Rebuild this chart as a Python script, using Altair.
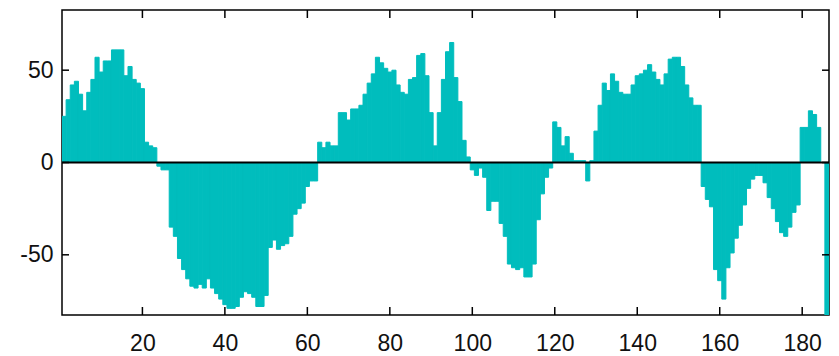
import altair as alt
import pandas as pd

index = list(range(1, 187))
values = [
    25, 34, 42, 44, 37, 28, 38, 45, 57, 49,
    55, 55, 61, 61, 61, 47, 52, 45, 43, 40,
    11, 9, 8, -2, -4, -4, -35, -40, -52, -58,
    -63, -67, -68, -66, -68, -63, -68, -71, -74, -77,
    -79, -79, -78, -73, -70, -71, -73, -78, -78, -72,
    -46, -42, -47, -45, -44, -40, -28, -25, -22, -13,
    -10, -10, 11, 8, 11, 9, 9, 27, 27, 23,
    29, 29, 31, 37, 43, 48, 57, 54, 51, 49,
    50, 42, 38, 37, 45, 46, 58, 59, 47, 27,
    9, 27, 45, 60, 65, 46, 33, 12, 3, -4,
    -7, -3, -8, -26, -21, -21, -33, -40, -55, -57,
    -58, -57, -62, -62, -55, -31, -17, -8, -3, 22,
    19, 9, 14, 5, 1, 1, 1, -10, 1, 17,
    31, 43, 39, 48, 44, 38, 37, 37, 42, 47,
    48, 50, 53, 49, 45, 42, 48, 56, 57, 57,
    52, 42, 35, 31, 31, -13, -20, -24, -58, -64,
    -74, -57, -49, -41, -34, -23, -14, -9, -7, -7,
    -11, -19, -25, -32, -38, -40, -35, -27, -23, 19,
    19, 28, 26, 19, 0, -83,
]
x_ticks = [20, 40, 60, 80, 100, 120, 140, 160, 180]
y_ticks = [-50, 0, 50]

TEAL = "#00BDBD"
FONT = "Liberation Sans Narrow, Liberation Sans, Arial, sans-serif"
W, H = 767, 305

df = pd.DataFrame({"i": index, "v": values})
xs = alt.Scale(domain=[0.5, 186.5], nice=False, zero=False)
ys = alt.Scale(domain=[-82.6, 82.6], nice=False, zero=False)

xaxis = alt.Axis(values=x_ticks, ticks=False, domain=False, grid=False,
                 labelFontSize=23, labelFont=FONT, labelColor="#111",
                 labelPadding=17, title=None)
yaxis = alt.Axis(values=y_ticks, ticks=False, domain=False, grid=False,
                 labelFontSize=23, labelFont=FONT, labelColor="#111",
                 labelPadding=9, title=None,
                 labelExpr="replace(datum.label, '\u2212', '-')")

bars = alt.Chart(df).transform_calculate(
    x0="datum.i - 0.5", x1="datum.i + 0.5", zero="0"
).mark_bar(color=TEAL, stroke=TEAL, strokeWidth=1, clip=True).encode(
    x=alt.X("x0:Q", scale=xs, axis=xaxis),
    x2="x1:Q",
    y=alt.Y("v:Q", scale=ys, axis=yaxis),
    y2="zero:Q",
)

xt = pd.DataFrame({"t": x_ticks})
yt = pd.DataFrame({"t": y_ticks})

xticks_bottom = alt.Chart(xt).mark_rule(color="black", strokeWidth=1.5).encode(
    x=alt.X("t:Q", scale=xs, axis=xaxis), y=alt.value(H), y2=alt.value(H - 8))
xticks_top = alt.Chart(xt).mark_rule(color="black", strokeWidth=1.5).encode(
    x=alt.X("t:Q", scale=xs, axis=xaxis), y=alt.value(0), y2=alt.value(8))
yticks_left = alt.Chart(yt).mark_rule(color="black", strokeWidth=1.5).encode(
    y=alt.Y("t:Q", scale=ys, axis=yaxis), x=alt.value(0), x2=alt.value(7))
yticks_right = alt.Chart(yt).mark_rule(color="black", strokeWidth=1.5).encode(
    y=alt.Y("t:Q", scale=ys, axis=yaxis), x=alt.value(W), x2=alt.value(W - 7))

zero_line = alt.Chart(pd.DataFrame({"z": [0]})).mark_rule(color="black", strokeWidth=2).encode(
    y=alt.Y("z:Q", scale=ys, axis=yaxis), x=alt.value(0), x2=alt.value(W))

chart = alt.layer(
    bars, zero_line, xticks_bottom, xticks_top, yticks_left, yticks_right
).properties(
    width=W, height=H,
    autosize=alt.AutoSizeParams(type="none"),
    padding={"left": 62, "top": 10, "right": 10, "bottom": 41},
    background="white",
).configure_view(stroke="black", strokeWidth=1.5)

chart.save("out.html", embed_options={"renderer": "svg", "actions": False})
